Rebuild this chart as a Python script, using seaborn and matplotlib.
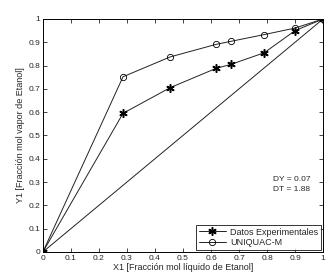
import matplotlib
matplotlib.use("Agg")
import matplotlib.pyplot as plt
import seaborn as sns
import pandas as pd

sns.set_style("ticks")
plt.rcParams['font.family'] = ['Liberation Sans', 'DejaVu Sans']

x_exp = [0.0, 0.286, 0.454, 0.618, 0.671, 0.79, 0.90, 1.0]
y_exp = [0.0, 0.595, 0.705, 0.788, 0.805, 0.855, 0.95, 1.0]
x_uni = [0.0, 0.286, 0.454, 0.618, 0.671, 0.79, 0.90, 1.0]
y_uni = [0.0, 0.752, 0.837, 0.891, 0.904, 0.933, 0.961, 1.0]
diag = [0.0, 1.0]
ticks = [0, 0.1, 0.2, 0.3, 0.4, 0.5, 0.6, 0.7, 0.8, 0.9, 1]
tick_labels = ["0", "0.1", "0.2", "0.3", "0.4", "0.5", "0.6", "0.7", "0.8", "0.9", "1"]

fig = plt.figure(figsize=(3.3, 2.79), dpi=100)
ax = fig.add_axes([0.130, 0.097, 0.849, 0.835])

df_exp = pd.DataFrame({"x": x_exp, "y": y_exp})
df_uni = pd.DataFrame({"x": x_uni, "y": y_uni})
df_d = pd.DataFrame({"x": diag, "y": diag})

sns.lineplot(data=df_d, x="x", y="y", ax=ax, color="#222222", lw=0.7, sort=False)
sns.lineplot(data=df_exp, x="x", y="y", ax=ax, color="#222222", lw=0.7, marker=(6, 2, 0),
             markersize=6, markeredgewidth=1.1, markeredgecolor="black",
             sort=False, label="Datos Experimentales")
sns.lineplot(data=df_uni, x="x", y="y", ax=ax, color="#222222", lw=0.7, marker="o",
             markersize=4.5, fillstyle="none", markeredgewidth=0.6, markeredgecolor="black",
             sort=False, label="UNIQUAC-M")

ax.set_xlim(0, 1)
ax.set_ylim(0, 1)
ax.set_xticks(ticks)
ax.set_xticklabels(tick_labels)
ax.set_yticks(ticks)
ax.set_yticklabels(tick_labels)
ax.tick_params(direction="in", length=3, width=0.6, labelsize=6, top=True, right=True, pad=2)
for s in ax.spines.values():
    s.set_linewidth(0.7)
    s.set_color("black")

ax.set_xlabel("X1 [Fracción mol líquido de Etanol]", fontsize=6.5, labelpad=1)
ax.set_ylabel("Y1 [Fracción mol vapor de Etanol]", fontsize=6.5, labelpad=2)

ax.text(0.822, 0.305, "DY = 0.07", fontsize=6, transform=ax.transAxes)
ax.text(0.822, 0.262, "DT = 1.88", fontsize=6, transform=ax.transAxes)

leg = ax.legend(loc="lower right", fontsize=6.5, frameon=True, fancybox=False,
                edgecolor="black", borderaxespad=0.2, handlelength=3, labelspacing=0.2,
                borderpad=0.3, handletextpad=0.5)
leg.get_frame().set_linewidth(0.7)

fig.savefig("out.png", dpi=100)
